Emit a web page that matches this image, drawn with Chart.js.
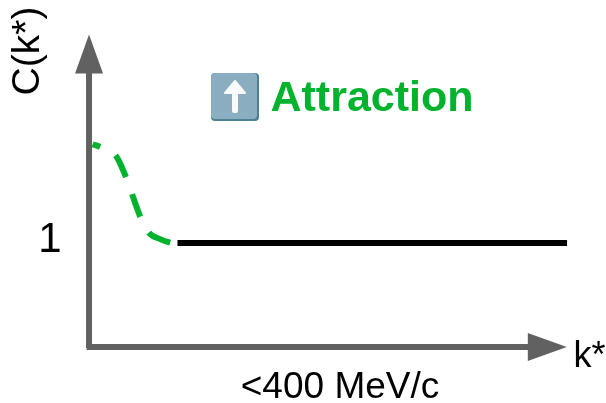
<!DOCTYPE html>
<html>
<head>
	<title>C(k*) attraction</title>
	<script src="https://cdn.jsdelivr.net/npm/chart.js@4"></script>
	<style>
		html, body { margin: 0; padding: 0; background: #fff; }
		#box { width: 606px; height: 403px; }
	</style>
</head>
<body>
	<div id="box">
		<canvas id="chart"></canvas>
	</div>

	<script type="text/javascript">
		// k* in MeV/c, C(k*)
		var dashK = [3, 10, 23, 31, 43, 50, 59, 69, 74];
		var dashC = [1.95, 1.92, 1.83, 1.63, 1.25, 1.10, 1.04, 1.0, 0.99];
		var flatK = [74, 400];
		var flatC = [1, 1];
		var axisXK = [-2, 368];
		var axisXC = [0, 0];
		var axisYK = [0, 0];
		var axisYC = [-0.01, 2.64];

		var yTickLabel = '1';
		var xLabel = 'k*';
		var yLabel = 'C(k*)';
		var rangeLabel = '<400 MeV/c';
		var noteLabel = 'Attraction';

		var gray = '#616161';
		var green = '#00b32c';
		var font = '"Liberation Sans", Arial, sans-serif';

		function pts(xs, ys) {
			return xs.map(function (x, i) { return { x: x, y: ys[i] }; });
		}

		function label(ctx, text, x, y, size, color, weight, rot) {
			ctx.save();
			ctx.translate(x, y);
			if (rot) ctx.rotate(rot);
			ctx.font = (weight || 'normal') + ' ' + size + 'px ' + font;
			ctx.fillStyle = color || '#000';
			ctx.textAlign = 'center';
			ctx.textBaseline = 'alphabetic';
			ctx.fillText(text, 0, 0);
			ctx.restore();
		}

		function tri(ctx, a, b, c) {
			ctx.beginPath();
			ctx.moveTo(a[0], a[1]);
			ctx.lineTo(b[0], b[1]);
			ctx.lineTo(c[0], c[1]);
			ctx.closePath();
			ctx.fill();
		}

		// arrow heads, texts and the little up-arrow button
		var decor = {
			id: 'decor',
			afterDatasetsDraw: function (chart) {
				var ctx = chart.ctx;
				var x = chart.scales.x, y = chart.scales.y;
				var endX = x.getPixelForValue(axisXK[1]);
				var endY = y.getPixelForValue(axisYC[1]);
				var x0 = x.getPixelForValue(0);
				var y0 = y.getPixelForValue(0);

				ctx.save();
				ctx.fillStyle = gray;
				tri(ctx, [endX - 1, y0 - 14], [endX + 38, y0], [endX - 1, y0 + 14]);
				tri(ctx, [x0 - 14, endY + 1], [x0, endY - 38], [x0 + 14, endY + 1]);

				// button
				ctx.fillStyle = '#4f7f92';
				ctx.beginPath();
				ctx.roundRect(211, 73, 48, 48, 4);
				ctx.fill();
				ctx.fillStyle = '#8aaebf';
				ctx.beginPath();
				ctx.roundRect(211, 73, 46, 46, 4);
				ctx.fill();
				ctx.fillStyle = '#f8fafb';
				ctx.strokeStyle = '#f8fafb';
				ctx.lineWidth = 2;
				ctx.lineJoin = 'round';
				ctx.beginPath();
				ctx.moveTo(225, 93);
				ctx.lineTo(235, 81);
				ctx.lineTo(245, 93);
				ctx.closePath();
				ctx.fill();
				ctx.stroke();
				ctx.beginPath();
				ctx.roundRect(232, 90, 6, 23, 2);
				ctx.fill();
				ctx.restore();

				label(ctx, noteLabel, 372, 111, 43, green, 'bold');
				label(ctx, yTickLabel, 50, 252, 42);
				label(ctx, xLabel, 589.5, 367, 36);
				label(ctx, rangeLabel, 340, 398, 37);
				label(ctx, yLabel, 39, 51, 39, '#000', 'normal', -Math.PI / 2);
			}
		};

		var config = {
			type: 'line',
			data: {
				datasets: [
					{
						label: 'x axis',
						data: pts(axisXK, axisXC),
						borderColor: gray,
						borderWidth: 6,
						pointRadius: 0
					},
					{
						label: 'y axis',
						data: pts(axisYK, axisYC),
						borderColor: gray,
						borderWidth: 6,
						pointRadius: 0
					},
					{
						label: 'attraction',
						data: pts(dashK, dashC),
						borderColor: green,
						borderWidth: 6,
						borderDash: [24, 18],
						borderDashOffset: 16,
						cubicInterpolationMode: 'monotone',
						pointRadius: 0
					},
					{
						label: 'flat',
						data: pts(flatK, flatC),
						borderColor: '#000',
						borderWidth: 6,
						pointRadius: 0
					}
				]
			},
			options: {
				responsive: false,
				animation: false,
				layout: { padding: 0 },
				plugins: {
					legend: { display: false },
					tooltip: { enabled: false }
				},
				scales: {
					x: { type: 'linear', display: false, min: -74.5, max: 432.6 },
					y: { type: 'linear', display: false, min: -0.538, max: 3.337 }
				}
			},
			plugins: [decor]
		};

		var canvas = document.getElementById('chart');
		canvas.width = 606;
		canvas.height = 403;
		var chart = new Chart(canvas.getContext('2d'), config);
	</script>
</body>
</html>
